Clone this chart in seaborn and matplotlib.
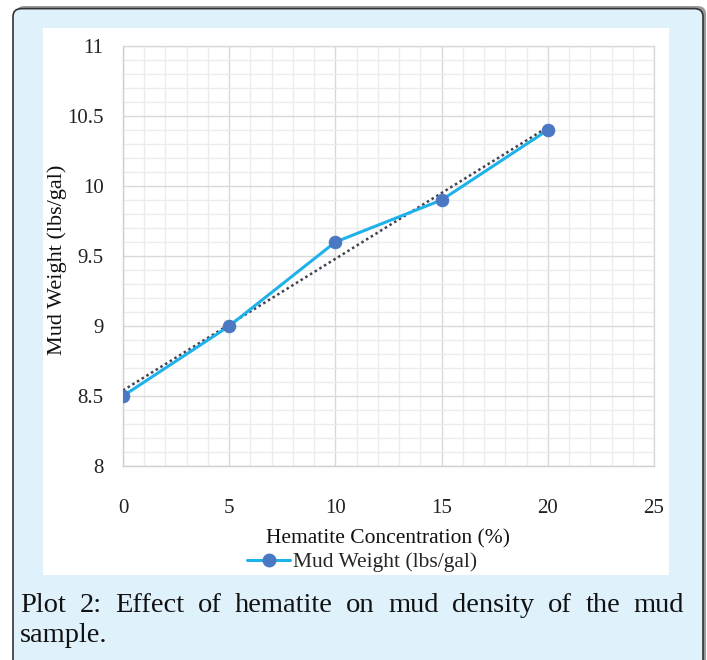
import matplotlib
matplotlib.use("Agg")
import matplotlib.pyplot as plt
import seaborn as sns
import pandas as pd
from matplotlib.patches import FancyBboxPatch, Rectangle
from matplotlib.lines import Line2D

concentration = [0, 5, 10, 15, 20]
mud_weight = [8.5, 9.0, 9.6, 9.9, 10.4]
series_name = "Mud Weight (lbs/gal)"
x_label = "Hematite Concentration (%)"
y_label = "Mud Weight (lbs/gal)"
caption_line1 = "Plot 2: Effect of hematite on mud density of the mud"
caption_line2 = "sample."
x_ticks = [0, 5, 10, 15, 20, 25]
y_ticks = [8, 8.5, 9, 9.5, 10, 10.5, 11]
y_tick_labels = ["8", "8.5", "9", "9.5", "10", "10.5", "11"]

df = pd.DataFrame({"x": concentration, "y": mud_weight})

sns.set_theme(style="white")
plt.rcParams["font.family"] = ["Liberation Serif", "DejaVu Serif"]

W, H = 707, 660
fig = plt.figure(figsize=(W / 100, H / 100), dpi=100)
fig.patch.set_facecolor("white")

BG = "#dff1fb"
shadow = FancyBboxPatch((16 / W, -0.05), (703 - 13) / W, (660 - 6) / H + 0.05,
                        boxstyle="round,pad=0,rounding_size=0.012",
                        transform=fig.transFigure, facecolor="#9a9a9a",
                        edgecolor="none", zorder=0)
fig.patches.append(shadow)
border = FancyBboxPatch((13 / W, -0.05), (703 - 13) / W, (660 - 6) / H + 0.05 - 0.004,
                        boxstyle="round,pad=0,rounding_size=0.012",
                        transform=fig.transFigure, facecolor=BG,
                        edgecolor="#333333", linewidth=1.2, zorder=1)
fig.patches.append(border)
panel = Rectangle((43 / W, 1 - 575 / H), (669 - 43) / W, (575 - 28) / H,
                  transform=fig.transFigure, facecolor="white", edgecolor="none", zorder=2)
fig.patches.append(panel)

ax = fig.add_axes([123 / W, 1 - 466 / H, (654 - 123) / W, (466 - 46) / H])
ax.set_zorder(3)
ax.set_facecolor("white")

sns.regplot(data=df, x="x", y="y", ax=ax, scatter=False, ci=None,
            line_kws=dict(color="#404050", linestyle=(0, (1, 1.2)), linewidth=1.8, zorder=3))
sns.lineplot(data=df, x="x", y="y", ax=ax, color="#1fb2ea", linewidth=2.2,
             marker="o", markersize=9, markerfacecolor="#4a78c2",
             markeredgecolor="#4a78c2", zorder=4)

ax.set_xlim(0, 25)
ax.set_ylim(8, 11)
ax.set_xticks(x_ticks)
ax.set_yticks(y_ticks)
ax.set_yticklabels(y_tick_labels)
ax.set_xticks([i for i in range(0, 26)], minor=True)
ax.set_yticks([8 + 0.1 * i for i in range(31)], minor=True)
ax.grid(which="minor", color="#ececec", linewidth=1.0)
ax.grid(which="major", color="#d9d9d9", linewidth=1.0)
ax.set_axisbelow(True)
for s in ["top", "right"]:
    ax.spines[s].set_color("#d9d9d9")
for s in ["left", "bottom"]:
    ax.spines[s].set_color("#d0d0d0")
for s in ax.spines.values():
    s.set_linewidth(1.0)
ax.tick_params(axis="both", which="both", length=0, labelsize=15, colors="#222222")
ax.tick_params(axis="x", pad=24)
ax.tick_params(axis="y", pad=14)
ax.set_xlabel(x_label, fontsize=15.5, color="#111111", labelpad=8)
ax.set_ylabel(y_label, fontsize=16, color="#111111")
ax.yaxis.set_label_coords((67 - 123) / (654 - 123), 0.49)

handle = Line2D([], [], color="#1fb2ea", linewidth=2.2, marker="o", markersize=9,
                markerfacecolor="#4a78c2", markeredgecolor="#4a78c2")
fig.legend([handle], [series_name], loc="center", bbox_to_anchor=(362 / W, 1 - 562 / H),
           frameon=False, fontsize=15.5, handlelength=2.0, handletextpad=0.1,
           borderaxespad=0, borderpad=0)

cap_size = 20.5
left_px, right_px = 20, 684
y1 = 1 - 606 / H
words = caption_line1.split(" ")
renderer = fig.canvas.get_renderer()
texts = [fig.text(0, y1, w, fontsize=cap_size, color="#111111", va="center", ha="left", zorder=5)
         for w in words]
widths = [t.get_window_extent(renderer=renderer).width for t in texts]
gap = (right_px - left_px - sum(widths)) / (len(words) - 1)
xpos = left_px
for t, wdt in zip(texts, widths):
    t.set_x(xpos / W)
    xpos += wdt + gap
fig.text(left_px / W, 1 - 636 / H, caption_line2, fontsize=cap_size, color="#111111",
         va="center", ha="left", zorder=5)

fig.savefig("out.png", dpi=100, facecolor=fig.get_facecolor())
